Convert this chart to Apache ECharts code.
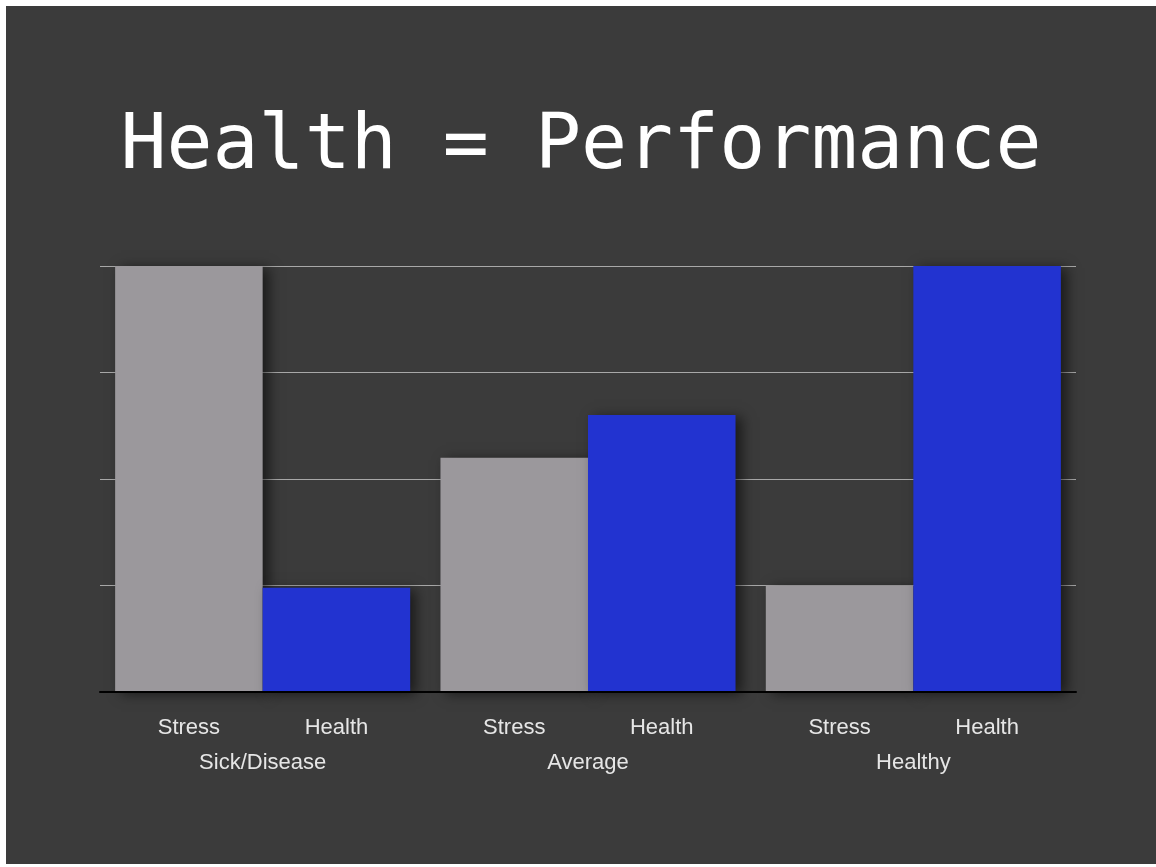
<!DOCTYPE html>
<html>
<head>
<meta charset="utf-8">
<script src="https://cdn.jsdelivr.net/npm/echarts@6/dist/echarts.min.js"></script>
<style>
html,body{margin:0;padding:0;background:#ffffff;width:1156px;height:867px;overflow:hidden;}
#chart{position:absolute;left:6px;top:6px;width:1150px;height:858px;}
</style>
</head>
<body>
<div id="chart"></div>
<script>
var titleText = 'Health = Performance';
var categories = ['Sick/Disease', 'Average', 'Healthy'];
var seriesNames = ['Stress', 'Health'];
var stressValues = [4, 2.2, 1];
var healthValues = [0.98, 2.6, 4];

var chart = echarts.init(document.getElementById('chart'));
var barLabel = {
  show: true,
  position: 'bottom',
  distance: 25,
  formatter: '{a}',
  color: '#e6e6e6',
  fontFamily: 'Liberation Sans, Arial, sans-serif',
  fontSize: 22
};
var shadow = {
  shadowColor: 'rgba(0,0,0,0.55)',
  shadowBlur: 12,
  shadowOffsetX: 6,
  shadowOffsetY: 2
};
chart.setOption({
  backgroundColor: '#3b3b3b',
  animation: false,
  title: {
    text: titleText,
    left: 'center',
    top: 99,
    textStyle: {
      color: '#ffffff',
      fontFamily: 'DejaVu Sans Mono, monospace',
      fontWeight: 'normal',
      fontSize: 76.5
    }
  },
  grid: { left: 94, right: 80, top: 260, bottom: 172 },
  xAxis: {
    type: 'category',
    data: categories,
    axisTick: { show: false },
    axisLine: { lineStyle: { color: '#000000', width: 2 } },
    axisLabel: {
      margin: 60,
      color: '#e6e6e6',
      fontFamily: 'Liberation Sans, Arial, sans-serif',
      fontSize: 22
    },
    z: 5
  },
  yAxis: {
    type: 'value',
    min: 0,
    max: 4,
    interval: 1,
    axisLabel: { show: false },
    axisLine: { show: false },
    axisTick: { show: false },
    splitLine: { lineStyle: { color: '#a8a8a8', width: 1 } }
  },
  series: [
    {
      name: seriesNames[0],
      type: 'bar',
      data: stressValues,
      barGap: '0%',
      barCategoryGap: '9.3%',
      itemStyle: Object.assign({ color: '#9b989c' }, shadow),
      label: barLabel
    },
    {
      name: seriesNames[1],
      type: 'bar',
      data: healthValues,
      itemStyle: Object.assign({ color: '#2233d0' }, shadow),
      label: barLabel
    }
  ]
});
</script>
</body>
</html>
